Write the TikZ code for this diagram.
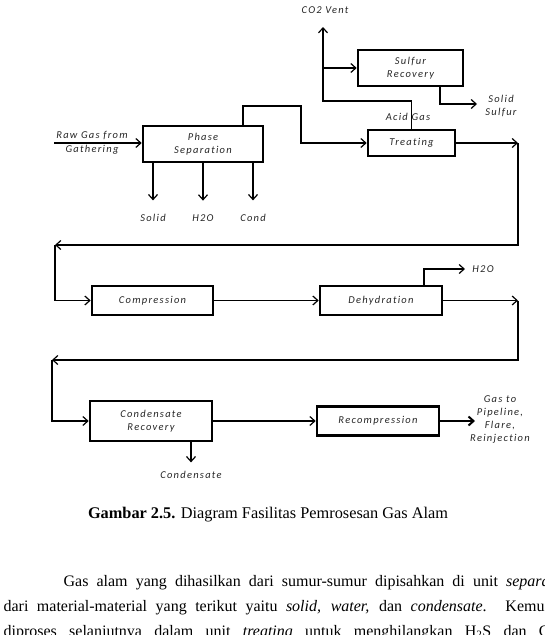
\documentclass[tikz,border=0pt]{standalone}
\usepackage{fontspec}
\setmainfont{Liberation Serif}
\newfontfamily\flowfont[LetterSpace=12, Ligatures=NoCommon]{Carlito}
\usetikzlibrary{arrows.meta}

\tikzset{
  label text/.style={font=\flowfont\itshape\fontsize{10.5}{13}\selectfont, text=black!85, align=center},
  unit/.style args={#1x#2}{draw, line width=2.6pt, inner sep=0pt, minimum width=#1, minimum height=#2},
  body/.style={font=\fontsize{16}{19}\selectfont, text=black, anchor=base west, inner sep=0pt},
}

\begin{document}
\begin{tikzpicture}[x=1pt,y=-1pt,line width=1.2pt,>={Straight Barb[length=5pt,width=9pt]},every node/.style={label text}]
  \useasboundingbox (0,0) rectangle (545,635);
  \clip (0,0) rectangle (545,635);
  % process units
  \node[unit={120x36}] (phase)   at (203,144)   {Phase\\Separation};
  \node[unit={87x26}]  (treat)   at (411.5,143) {Treating};
  \node[unit={105x36}] (sulfur)  at (410.5,68)  {Sulfur\\Recovery};
  \node[unit={121x29}] (comp)    at (152.5,300.5) {Compression};
  \node[unit={122x29}] (dehy)    at (381,300.5) {Dehydration};
  \node[unit={122x40}] (condrec) at (151,421)   {Condensate\\Recovery};
  \node[unit={122x29}] (recomp)  at (378,421)   {Recompression};
  % stream labels
  \node (raw)     at (92,143)  {Raw Gas from\\[1pt]Gathering};
  \node (solid)   at (153,218) {Solid};
  \node (water)   at (203,218) {H2O};
  \node (cond)    at (253,218) {Cond};
  \node (vent)    at (325,10)  {CO2 Vent};
  \node (acid)    at (408,117) {Acid Gas};
  \node (ssulfur) at (501,106) {Solid\\Sulfur};
  \node (water2)  at (483,269) {H2O};
  \node (gasout)  at (500,419) {Gas to\\Pipeline,\\Flare,\\Reinjection};
  \node (condout) at (191,475) {Condensate};
  % bends and free ends
  \coordinate (rawin)   at (54,143);
  \coordinate (bend)    at (301,106);
  \coordinate (split)   at (323,101);
  \coordinate (ventend) at (323,27);
  \coordinate (sulfend) at (477,104);
  \coordinate (r1)      at (518,143);
  \coordinate (l1)      at (55,245);
  \coordinate (w2end)   at (465,269);
  \coordinate (r2)      at (518,300.5);
  \coordinate (l2)      at (52,360);
  \coordinate (gasend)  at (475,421);
  % streams
  \draw[->] (rawin) -- (rawin -| phase.west);
  \foreach \n in {solid,water,cond}
    \draw[->,shorten >=10pt] (phase.south -| \n) -- (\n.north);
  \draw[->] ([xshift=40pt]phase.north) |- (bend) |- (treat.west);
  \draw[->] (treat.north) |- (split) -- (ventend);
  \draw[->] (sulfur.west -| split) -- (sulfur.west);
  \draw[->] ([xshift=29.5pt]sulfur.south) |- (sulfend);
  \draw[->] (treat.east) -- (r1);
  \draw[->] (r1) |- (l1);
  \draw[->] (l1) |- (comp.west);
  \draw[->] (comp) -- (dehy);
  \draw[->] ([xshift=43pt]dehy.north) |- (w2end);
  \draw[->] (dehy.east) -- (r2);
  \draw[->] (r2) |- (l2);
  \draw[->] (l2) |- (condrec.west);
  \draw[->] (condrec) -- (recomp);
  \draw[->,line width=2pt] (recomp) -- (gasend);
  \draw[->,shorten >=5pt] (condrec.south -| condout) -- (condout.north);
  % caption and text
  \node[font=\fontsize{16.3}{19}\selectfont, text=black] (caption) at (268,515)
    {\textbf{Gambar 2.5.} Diagram Fasilitas Pemrosesan Gas Alam};
  \node[body] (line1) at (63,586) {\makebox[486pt][s]{Gas alam yang dihasilkan dari sumur-sumur dipisahkan di unit \textit{separa}}};
  \node[body] (line2) at (3,611) {\makebox[549pt][s]{dari material-material yang terikut yaitu \textit{solid, water,} dan \textit{condensate}. Kemud}};
  \node[body] (line3) at (3,636) {\makebox[546pt][s]{diproses selanjutnya dalam unit \textit{treating} untuk menghilangkan H\textsubscript{2}S dan C}};
\end{tikzpicture}
\end{document}
